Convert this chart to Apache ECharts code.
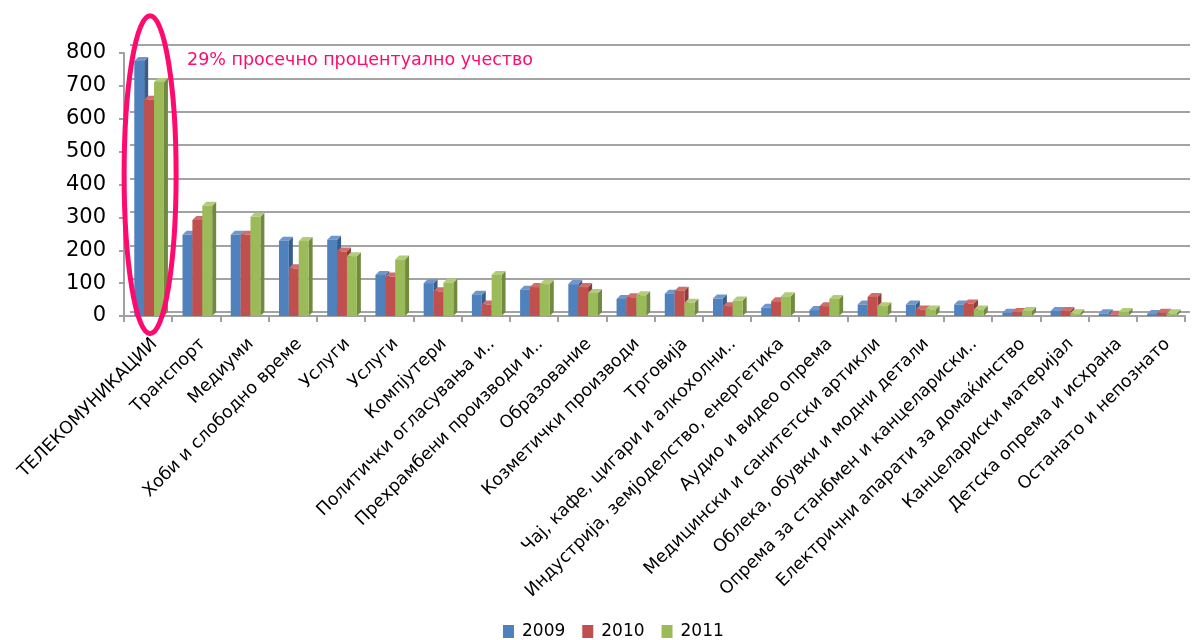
<!DOCTYPE html>
<html>
<head>
<meta charset="utf-8">
<script src="https://cdn.jsdelivr.net/npm/echarts@6/dist/echarts.min.js"></script>
<style>
html,body{margin:0;padding:0;background:#fff;}
#chart{width:1198px;height:640px;}
</style>
</head>
<body>
<div id="chart"></div>
<script>
const categories = [
  'ТЕЛЕКОМУНИКАЦИИ','Транспорт','Медиуми','Хоби и слободно време','Услуги','Услуги',
  'Компјутери','Политички огласувања и..','Прехрамбени производи и..','Образование',
  'Козметички производи','Трговија','Чај, кафе, цигари и алкохолни..',
  'Индустрија, земјоделство, енергетика','Аудио и видео опрема',
  'Медицински и санитетски артикли','Облека, обувки и модни детали',
  'Опрема за станбмен и канцелариски..','Електрични апарати за домаќинство',
  'Канцелариски материјал','Детска опрема и исхрана','Останато и непознато'
];
const seriesNames = ['2009','2010','2011'];
const values2009 = [776,247,247,229,232,125,100,65,80,97,52,68,53,25,18,35,35,35,10,15,8,6];
const values2010 = [658,292,247,145,196,120,75,35,88,88,57,77,30,45,30,58,20,38,12,15,4,10];
const values2011 = [712,335,302,228,182,172,102,125,97,70,63,40,47,60,52,30,20,20,15,8,12,8];
const yTicks = [0,100,200,300,400,500,600,700,800];
const annotationText = '29% просечно процентуално учество';

const frontColors = ['#4F81BD','#C0504D','#9BBB59'];
const sideColors  = ['#375D8C','#8E3A38','#718A3F'];
const topColors   = ['#6F97CC','#D06E6B','#B2CC7A'];
const allValues = [values2009, values2010, values2011];

function make3DRender(si) {
  return function (params, api) {
    const cat = api.value(0);
    const val = api.value(1);
    const p0 = api.coord([cat, 0]);
    const p1 = api.coord([cat, val]);
    const band = api.size([1, 0])[0];
    const w = band * 0.205;
    const d = 4;
    const x0 = p0[0] - 1.5 * w + si * w + 1;
    const yt = p1[1], yb = p0[1];
    return {
      type: 'group',
      children: [
        { type: 'polygon', shape: { points: [[x0 + w, yt], [x0 + w + d, yt - d], [x0 + w + d, yb - d], [x0 + w, yb]] },
          style: { fill: sideColors[si] } },
        { type: 'polygon', shape: { points: [[x0, yt], [x0 + d, yt - d], [x0 + w + d, yt - d], [x0 + w, yt]] },
          style: { fill: topColors[si] } },
        { type: 'rect', shape: { x: x0, y: yt, width: w, height: yb - yt },
          style: { fill: frontColors[si] } }
      ]
    };
  };
}

const chart = echarts.init(document.getElementById('chart'), null, { renderer: 'canvas' });

const series = seriesNames.map((name, si) => ({
  name: name,
  type: 'custom',
  xAxisIndex: 0, yAxisIndex: 0,
  renderItem: make3DRender(si),
  itemStyle: { color: frontColors[si] },
  encode: { x: 0, y: 1 },
  data: allValues[si].map((v, i) => [i, v]),
  z: 3
}));

// back-wall gridlines (3D offset)
series.push({
  type: 'bar', xAxisIndex: 1, yAxisIndex: 1, data: [], silent: true
});

const option = {
  animation: false,
  backgroundColor: '#ffffff',
  grid: [
    { left: 124, right: 13, top: 53, bottom: 324 },
    { left: 130, right: 8, top: 45, bottom: 328 }
  ],
  legend: {
    data: seriesNames,
    left: 503,
    top: 623,
    padding: 0,
    icon: 'rect',
    itemWidth: 11,
    itemHeight: 13,
    itemGap: 17,
    textStyle: { fontFamily: 'DejaVu Sans', fontSize: 17, color: '#000', padding: [0, 0, 0, 3] }
  },
  xAxis: [
    {
      type: 'category', gridIndex: 0, data: categories,
      axisLine: { show: true, lineStyle: { color: '#a0a0a0', width: 2 } },
      axisTick: { show: true, length: 6, lineStyle: { color: '#a0a0a0', width: 2 } },
      axisLabel: { interval: 0, rotate: 45, align: 'right', verticalAlign: 'top',
        fontFamily: 'DejaVu Sans', fontSize: 17.5, color: '#000', margin: 19 },
      splitLine: { show: false }
    },
    {
      type: 'category', gridIndex: 1, data: categories, show: false
    }
  ],
  yAxis: [
    {
      type: 'value', gridIndex: 0, min: 0, max: 800, interval: 100,
      axisLine: { show: true, lineStyle: { color: '#a0a0a0', width: 2 } },
      axisTick: { show: true, length: 5, lineStyle: { color: '#a0a0a0', width: 2 } },
      axisLabel: { fontFamily: 'DejaVu Sans', fontSize: 21, color: '#000', margin: 18,
        formatter: v => yTicks.includes(v) ? String(v) : '' },
      splitLine: { show: false }
    },
    {
      type: 'value', gridIndex: 1, min: 0, max: 800, interval: 100,
      axisLine: { show: false }, axisTick: { show: false }, axisLabel: { show: false },
      splitLine: { show: true, lineStyle: { color: '#a3a3a3', width: 2 } }
    }
  ],
  series: series
};
chart.setOption(option);

const c = chart.convertToPixel({ xAxisIndex: 0, yAxisIndex: 0 }, [0, 430]);
chart.setOption({
  graphic: [
    { type: 'ellipse', shape: { cx: c[0] + 2, cy: c[1], rx: 26, ry: 159 },
      style: { fill: 'none', stroke: '#FF0A6E', lineWidth: 5 }, z: 10 },
    { type: 'text', left: 187, top: 51,
      style: { text: annotationText, fill: '#FF0A6E', fontFamily: 'DejaVu Sans', fontSize: 17.5 }, z: 10 }
  ]
});
</script>
</body>
</html>
